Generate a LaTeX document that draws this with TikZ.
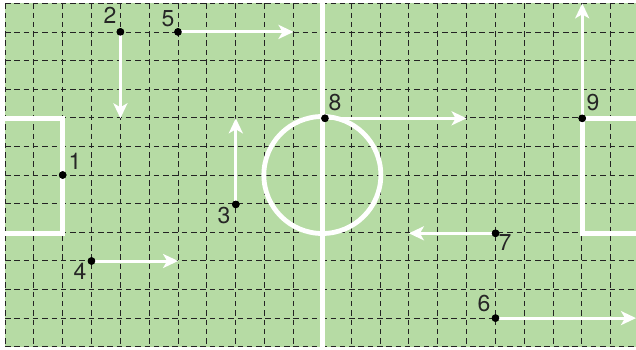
\documentclass[tikz,border=0pt]{standalone}
\usepackage{fontspec}
\setmainfont{TeX Gyre Heros}
\usetikzlibrary{arrows.meta}
\definecolor{field}{RGB}{182,219,164}
\definecolor{gridc}{RGB}{35,35,35}
\tikzset{
  gridline/.style={gridc, line width=0.8pt, dash pattern=on 5.5pt off 3.8pt},
  pitchline/.style={white, line width=4.8pt},
  runarrow/.style={white, line width=3pt, -{Stealth[length=15pt, width=14pt, inset=4pt]}},
  player/.style={circle, fill=black, inner sep=0pt, minimum size=7.5pt},
  numlabel/.style={font=\fontsize{23}{25}\selectfont, text=black!85, inner sep=0pt}
}
\begin{document}
\begin{tikzpicture}[x=1pt,y=-1pt]
\useasboundingbox (0,0) rectangle (636,350);
\fill[white] (0,0) rectangle (636,350);
\fill[field] (5,3.3) rectangle (636,346.7);
\begin{scope}
\clip (0,0) rectangle (636,350);
% grid
\foreach \k in {0,...,21} {
  \draw[gridline] ({5+28.84*\k},3.3) -- ({5+28.84*\k},346.7);
}
\foreach \r in {0,...,12} {
  \draw[gridline] (5,{3.3+28.62*\r}) -- (636,{3.3+28.62*\r});
}
% pitch markings
\draw[pitchline] (322.35,0) -- (322.35,350);
\draw[pitchline] (322.35,175.0) circle[radius=58.5];
\draw[pitchline] (3,118.3) -- (62.7,118.3) -- (62.7,233.3) -- (3,233.3);
\draw[pitchline] (640,118.3) -- (582.2,118.3) -- (582.2,233.3) -- (640,233.3);
\end{scope}
% players
\node[player] (p1) at (62.7,175.0) {};
\node[player] (p2) at (120.4,31.9) {};
\node[player] (p3) at (235.8,204.4) {};
\node[player] (p4) at (91.5,261.0) {};
\node[player] (p5) at (178.0,31.9) {};
\node[player] (p6) at (495.5,318.1) {};
\node[player] (p7) at (495.5,233.3) {};
\node[player] (p8) at (325.0,118.3) {};
\node[player] (p9) at (582.2,118.3) {};
% arrow ends
\coordinate (e2) at (120.4,118.3);
\coordinate (e3) at (235.8,118.3);
\coordinate (e4) at (178.1,261.0);
\coordinate (e5) at (293.5,31.9);
\coordinate (e6) at (636,318.1);
\coordinate (e7) at (408.9,233.3);
\coordinate (e8) at (466.6,118.3);
\coordinate (e9) at (582.2,3.3);
\draw[runarrow] (p2.center) -- (e2);
\draw[runarrow] (p3.center) -- (e3);
\draw[runarrow] (p4.center) -- (e4);
\draw[runarrow] (p5.center) -- (e5);
\draw[runarrow] (p6.center) -- (e6);
\draw[runarrow] (p7.center) -- (e7);
\draw[runarrow] (p8.center) -- (e8);
\draw[runarrow] (p9.center) -- (e9);
% redraw dots on top
\foreach \p in {p1,p2,p3,p4,p5,p6,p7,p8,p9} {
  \fill[black] (\p.center) circle[radius=3.8];
}
% labels
\node[numlabel] (l1) at (75,161) {1};
\node[numlabel] (l2) at (110,15) {2};
\node[numlabel] (l3) at (224,216) {3};
\node[numlabel] (l4) at (80,271) {4};
\node[numlabel] (l5) at (168,19) {5};
\node[numlabel] (l6) at (484,304) {6};
\node[numlabel] (l7) at (505,243) {7};
\node[numlabel] (l8) at (335,103) {8};
\node[numlabel] (l9) at (593,103) {9};
\end{tikzpicture}
\end{document}
